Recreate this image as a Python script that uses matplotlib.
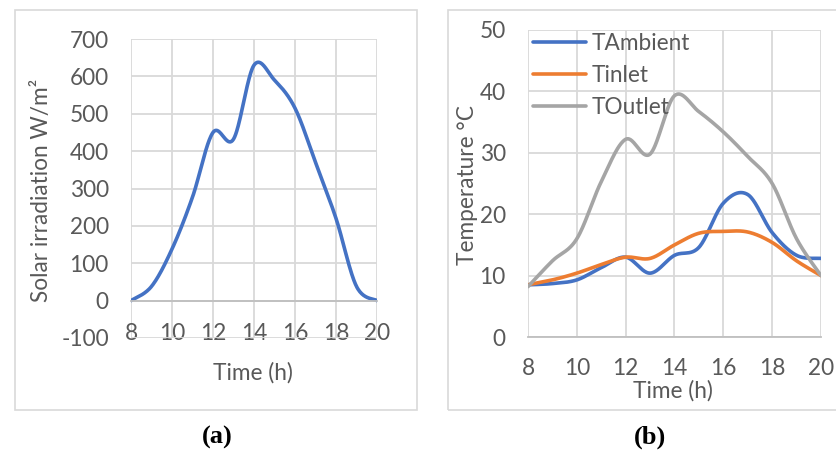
import matplotlib
matplotlib.use("Agg")
import matplotlib.pyplot as plt
import numpy as np
from matplotlib.patches import Rectangle

# hourly readings, 8h .. 20h
hours = [8, 9, 10, 11, 12, 13, 14, 15, 16, 17, 18, 19, 20]
irradiation = [0, 38, 138, 277, 450, 432, 630, 590, 515, 370, 220, 38, 0]
t_ambient = [8.5, 8.7, 9.3, 11.3, 13.0, 10.4, 13.3, 14.6, 21.8, 23.2, 17.0, 13.3, 12.8]
t_inlet = [8.5, 9.3, 10.4, 11.8, 13.0, 12.8, 15.0, 16.9, 17.2, 17.1, 15.4, 12.4, 10.0]
t_outlet = [8.2, 12.4, 16.0, 25.3, 32.2, 29.8, 39.3, 36.7, 33.4, 29.4, 25.0, 16.0, 10.0]
x_ticks = [8, 10, 12, 14, 16, 18, 20]

BLUE = "#4472C4"
ORANGE = "#ED7D31"
GREY = "#A5A5A5"
TXT = "#595959"
GRID = "#D9D9D9"
FS = 16.3


def smooth(x, y, n=40):
    # Excel-style smoothed line: Catmull-Rom turned into cubic Bezier segments
    x = np.asarray(x, float)
    y = np.asarray(y, float)
    px = np.concatenate([[x[0]], x, [x[-1]]])
    py = np.concatenate([[y[0]], y, [y[-1]]])
    t = np.linspace(0, 1, n)[:, None]
    pts = []
    for i in range(1, len(px) - 2):
        p0 = np.array([px[i - 1], py[i - 1]])
        p1 = np.array([px[i], py[i]])
        p2 = np.array([px[i + 1], py[i + 1]])
        p3 = np.array([px[i + 2], py[i + 2]])
        c1 = p1 + (p2 - p0) / 6
        c2 = p2 - (p3 - p1) / 6
        seg = ((1 - t) ** 3) * p1 + 3 * ((1 - t) ** 2) * t * c1 + 3 * (1 - t) * t ** 2 * c2 + t ** 3 * p2
        pts.append(seg if i == 1 else seg[1:])
    pts = np.vstack(pts)
    return pts[:, 0], pts[:, 1]


plt.rcParams['font.family'] = ['Lato', 'DejaVu Sans']
plt.rcParams['axes.unicode_minus'] = False
W, H = 837, 450
fig = plt.figure(figsize=(W / 100, H / 100), dpi=100)


def px_rect(x0, y0, x1, y1):
    return [x0 / W, 1 - y1 / H, (x1 - x0) / W, (y1 - y0) / H]


# outer chart frames (the right one runs off the image)
for (x0, x1) in [(15, 417), (448, 845)]:
    fig.patches.append(Rectangle((x0 / W, 1 - 410 / H), (x1 - x0) / W, 400 / H,
                                 transform=fig.transFigure, fill=False,
                                 edgecolor=GRID, linewidth=1.2))


def style(ax, ypad):
    for s in ax.spines.values():
        s.set_visible(False)
    ax.grid(True, color=GRID, linewidth=1.3)
    ax.set_axisbelow(True)
    ax.tick_params(axis='both', length=0, labelsize=FS, labelcolor=TXT)
    ax.tick_params(axis='y', pad=ypad)


# (a) solar irradiation
ax1 = fig.add_axes(px_rect(131, 39, 377, 338))
style(ax1, 16)
ax1.set_xlim(8, 20)
ax1.set_ylim(-100, 700)
ax1.set_xticks(x_ticks)
ax1.set_yticks(range(-100, 701, 100))
ax1.spines['bottom'].set_visible(True)
ax1.spines['bottom'].set_position(('data', 0))
ax1.spines['bottom'].set_color("#BFBFBF")
ax1.spines['bottom'].set_linewidth(1.3)
ax1.tick_params(axis='x', pad=16)
sx, sy = smooth(hours, irradiation)
ax1.plot(sx, sy, color=BLUE, linewidth=2.6, solid_capstyle='round')
ax1.set_xlabel("Time (h)", fontsize=FS, color=TXT)
ax1.xaxis.label.set_va('center')
ax1.xaxis.set_label_coords(0.496, -0.117)
ax1.set_ylabel("Solar irradiation W/m²", fontsize=FS, color=TXT)
ax1.yaxis.label.set_va('center')
ax1.yaxis.set_label_coords(-0.362, 0.495)

# (b) temperatures
ax2 = fig.add_axes(px_rect(528, 30, 821, 337))
style(ax2, 16)
ax2.set_xlim(8, 20)
ax2.set_ylim(0, 50)
ax2.set_xticks(x_ticks)
ax2.set_yticks(range(0, 51, 10))
ax2.spines['bottom'].set_visible(True)
ax2.spines['bottom'].set_color("#BFBFBF")
ax2.spines['bottom'].set_linewidth(1.3)
ax2.tick_params(axis='x', pad=15)
for vals, col, name in [(t_ambient, BLUE, "TAmbient"), (t_inlet, ORANGE, "Tinlet"),
                        (t_outlet, GREY, "TOutlet")]:
    sx, sy = smooth(hours, vals)
    ax2.plot(sx, sy, color=col, linewidth=2.6, label=name, solid_capstyle='round')
ax2.set_xlabel("Time (h)", fontsize=FS, color=TXT)
ax2.xaxis.label.set_va('center')
ax2.xaxis.set_label_coords(0.495, -0.176)
ax2.set_ylabel("Temperature °C", fontsize=FS, color=TXT)
ax2.yaxis.label.set_va('center')
ax2.yaxis.set_label_coords(-0.205, 0.495)
leg = ax2.legend(loc='upper left', bbox_to_anchor=(0.017, 0.99), frameon=False,
                 fontsize=FS, handlelength=2.35, handletextpad=0.22,
                 labelspacing=0.48, borderpad=0, borderaxespad=0)
for t in leg.get_texts():
    t.set_color(TXT)

fig.text(217 / W, 1 - 437 / H, "(a)", ha='center', va='center',
         fontsize=19, fontweight='bold', family='Liberation Serif')
fig.text(650 / W, 1 - 437 / H, "(b)", ha='center', va='center',
         fontsize=19, fontweight='bold', family='Liberation Serif')

fig.savefig("out.png", dpi=100)
